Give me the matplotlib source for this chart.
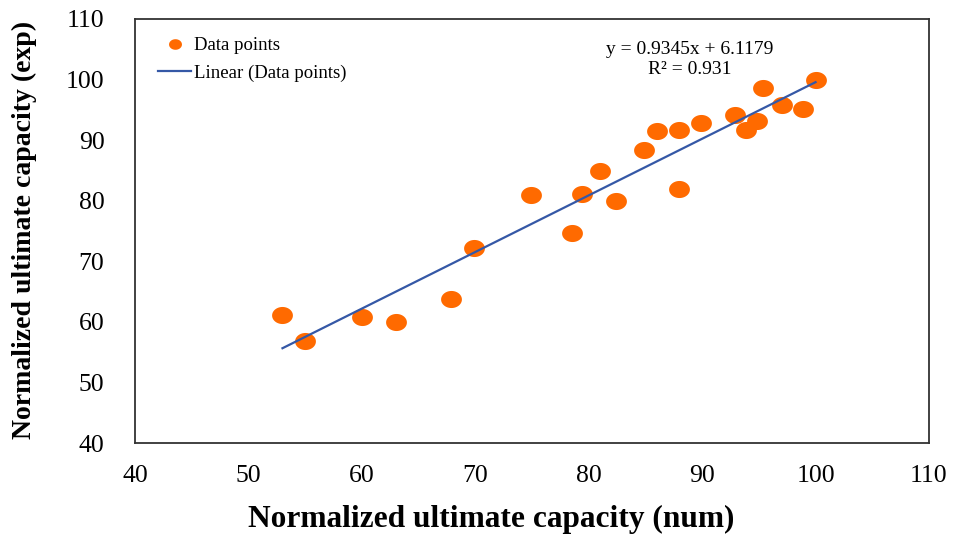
import numpy as np
import matplotlib.pyplot as plt
from matplotlib.path import Path

# normalized capacities: numerical (x) vs experimental (y)
x_num = [53.0, 55.0, 60.0, 63.0, 67.9, 69.9, 74.9, 78.5, 79.4, 81.0, 82.4, 84.9,
         86.0, 88.0, 88.0, 89.9, 92.9, 93.9, 94.8, 95.4, 97.0, 98.9, 100.0]
y_exp = [61.1, 56.8, 60.8, 60.0, 63.8, 72.2, 80.9, 74.7, 81.1, 84.9, 80.0, 88.4,
         91.5, 91.7, 81.9, 92.8, 94.2, 91.7, 93.2, 98.6, 95.8, 95.1, 99.9]

# linear trend
slope = 0.9345
intercept = 6.1179
r2 = 0.931

ticks = [40, 50, 60, 70, 80, 90, 100, 110]

plt.rcParams['font.family'] = ['Liberation Serif', 'DejaVu Serif']

#slightly flattened ellipse for the markers
th = np.linspace(0, 2*np.pi, 60)
ell = Path(np.column_stack([np.cos(th), 0.82*np.sin(th)]), closed=True)

orange = '#FF6A00'
blue = '#3558A6'

fig = plt.figure(figsize=(9.57, 5.36), dpi=100)
ax = fig.add_axes([0.1411, 0.1735, 0.8296, 0.7911])

xs = np.array([min(x_num), max(x_num)])
ax.plot(x_num, y_exp, linestyle='none', marker=ell, ms=15, color=orange,
        markeredgewidth=0, label='Data points', zorder=2)
ax.plot(xs, slope*xs + intercept, color=blue, lw=1.6, label='Linear (Data points)', zorder=3)

ax.set_xlim(40, 110)
ax.set_ylim(40, 110)
ax.set_xticks(ticks)
ax.set_yticks(ticks)
ax.tick_params(length=0, labelsize=18.5, colors='black')
ax.tick_params(axis='x', pad=16)
ax.tick_params(axis='y', pad=22)
for s in ax.spines.values():
    s.set_color('#333333')
    s.set_linewidth(1.3)

ax.set_xlabel('Normalized ultimate capacity (num)', fontsize=22.6, fontweight='bold')
ax.set_ylabel('Normalized ultimate capacity (exp)', fontsize=20, fontweight='bold')
ax.xaxis.set_label_coords(0.449, -0.145)
ax.yaxis.set_label_coords(-0.123, 0.503)

ax.text(0.699, 0.929, 'y = 0.9345x + 6.1179', transform=ax.transAxes, ha='center',
        va='center', fontsize=14)
ax.text(0.699, 0.882, 'R² = {:.3f}'.format(r2), transform=ax.transAxes, ha='center',
        va='center', fontsize=14)

leg = ax.legend(loc='upper left', bbox_to_anchor=(0.008, 0.997), frameon=False, fontsize=13.5,
                handlelength=1.75, handletextpad=0.15, labelspacing=0.55, markerscale=0.62)

plt.savefig('out.png', dpi=100)
